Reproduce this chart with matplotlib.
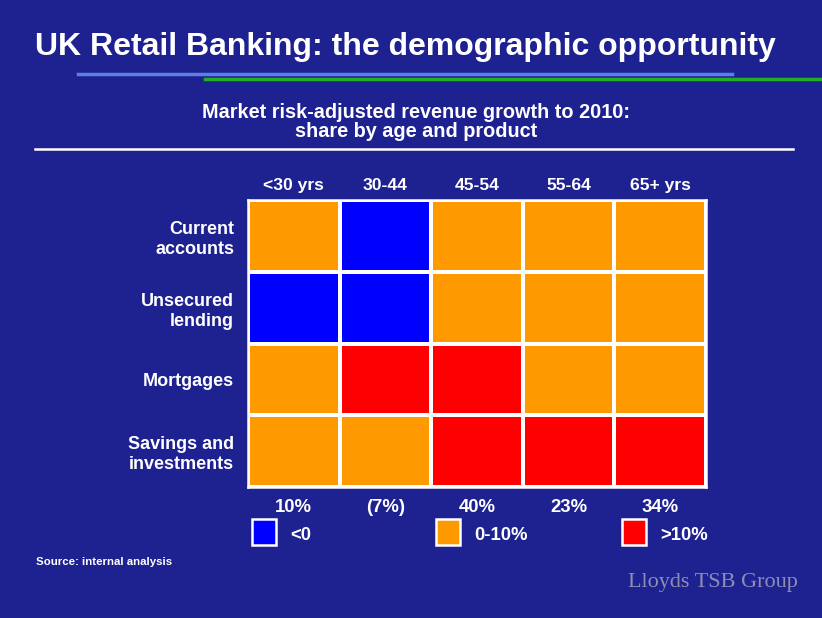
import matplotlib
matplotlib.use('Agg')
import matplotlib.pyplot as plt
from matplotlib.colors import ListedColormap
from matplotlib.patches import Rectangle
import numpy as np

plt.rcParams['font.family'] = ['Liberation Sans', 'DejaVu Sans']

# datos
ages = ['<30 yrs', '30-44', '45-54', '55-64', '65+ yrs']
products = ['Current\naccounts', 'Unsecured\nlending', 'Mortgages', 'Savings and\ninvestments']
# 0 = <0, 1 = 0-10%, 2 = >10%
growth_band = [
    [1, 0, 1, 1, 1],
    [0, 0, 1, 1, 1],
    [1, 2, 2, 1, 1],
    [1, 1, 2, 2, 2],
]
age_totals = ['10%', '(7%)', '40%', '23%', '34%']
band_labels = ['<0', '0-10%', '>10%']
band_colors = ['#0000FF', '#FF9900', '#FF0000']

bg = '#1e2190'
fig = plt.figure(figsize=(8.22, 6.18), dpi=100, facecolor=bg)

# titulo y lineas
fig.text(35 / 822, 1 - 47 / 618, 'UK Retail Banking: the demographic opportunity',
         color='white', fontsize=23, fontweight='bold', va='center', ha='left')
fig.add_artist(plt.Line2D([78 / 822, 732 / 822], [1 - 74 / 618] * 2, color='#5b7fe6', lw=2.5))
fig.add_artist(plt.Line2D([205 / 822, 1.0], [1 - 79 / 618] * 2, color='#22b022', lw=2.5))

fig.text(416 / 822, 1 - 122 / 618,
         'Market risk-adjusted revenue growth to 2010:\nshare by age and product',
         color='white', fontsize=14.3, fontweight='bold', ha='center', va='center',
         linespacing=1.05)
fig.add_artist(plt.Line2D([35 / 822, 793 / 822], [1 - 149 / 618] * 2, color='white', lw=1.8))

# mapa de calor
ax = fig.add_axes([248 / 822, 1 - 487 / 618, 458 / 822, 287 / 618])
cmap = ListedColormap(band_colors)
ax.pcolormesh(np.array(growth_band), cmap=cmap, vmin=-0.5, vmax=2.5,
              edgecolors='white', linewidth=1.6)
ax.set_xlim(0, len(ages))
ax.set_ylim(len(products), 0)
for s in ax.spines.values():
    s.set_color('white')
    s.set_linewidth(1.8)

ax.xaxis.tick_top()
ax.set_xticks(np.arange(len(ages)) + 0.5)
ax.set_xticklabels(ages, color='white', fontsize=12.6, fontweight='bold')
ax.set_yticks(np.arange(len(products)) + 0.5)
ax.set_yticklabels(products, color='white', fontsize=13, fontweight='bold',
                   linespacing=1.25)
ax.tick_params(axis='y', length=0, pad=10)
ax.tick_params(axis='x', length=0, pad=5)

for i, t in enumerate(age_totals):
    ax.text(i + 0.5, len(products) + 0.28, t, color='white', fontsize=13.3,
            fontweight='bold', ha='center', va='center', clip_on=False)

# leyenda
legend_x = [252, 436, 622]
for x, lab, col in zip(legend_x, band_labels, band_colors):
    fig.add_artist(Rectangle((x / 822, 1 - 545 / 618), 24 / 822, 26 / 618,
                             facecolor=col, edgecolor='white', lw=1.8,
                             transform=fig.transFigure))
    fig.text((x + 38) / 822, 1 - 535 / 618, lab, color='white', fontsize=13.3,
             fontweight='bold', va='center', ha='left')

fig.text(36 / 822, 1 - 562 / 618, 'Source: internal analysis', color='white',
         fontsize=8.2, fontweight='bold', va='center')
fig.text(798 / 822, 1 - 583 / 618, 'Lloyds TSB Group', color='#8e8eb4',
         fontsize=16, family='Liberation Serif', va='center', ha='right')

fig.savefig('out.png', dpi=100, facecolor=bg)
